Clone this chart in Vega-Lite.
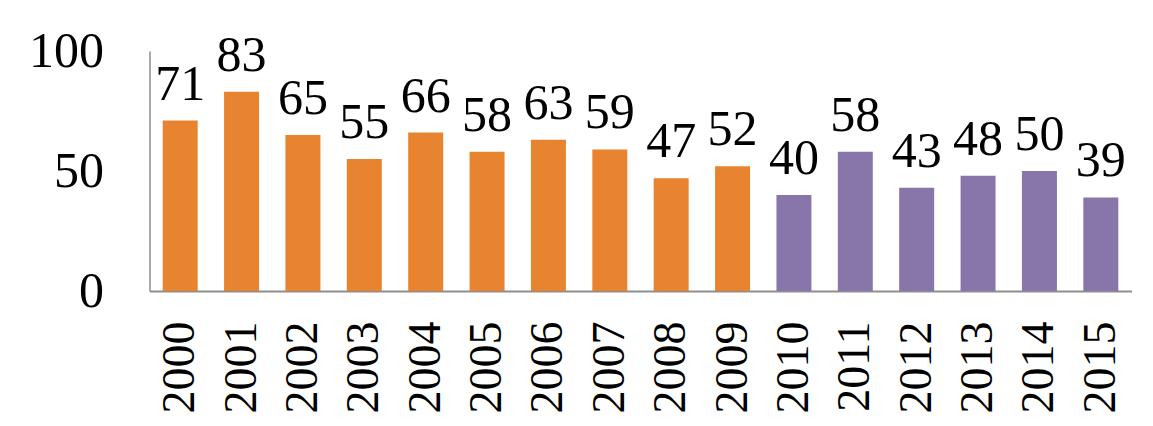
{
  "$schema": "https://vega.github.io/schema/vega-lite/v6.json",
  "autosize": {"type": "none"},
  "padding": {"left": 149.5, "top": 51, "right": 21, "bottom": 135},
  "width": 982,
  "height": 240,
  "background": "white",
  "config": {"view": {"stroke": null}},
  "data": {
    "values": [
      {"year": "2000", "value": 71, "period": "A"},
      {"year": "2001", "value": 83, "period": "A"},
      {"year": "2002", "value": 65, "period": "A"},
      {"year": "2003", "value": 55, "period": "A"},
      {"year": "2004", "value": 66, "period": "A"},
      {"year": "2005", "value": 58, "period": "A"},
      {"year": "2006", "value": 63, "period": "A"},
      {"year": "2007", "value": 59, "period": "A"},
      {"year": "2008", "value": 47, "period": "A"},
      {"year": "2009", "value": 52, "period": "A"},
      {"year": "2010", "value": 40, "period": "B"},
      {"year": "2011", "value": 58, "period": "B"},
      {"year": "2012", "value": 43, "period": "B"},
      {"year": "2013", "value": 48, "period": "B"},
      {"year": "2014", "value": 50, "period": "B"},
      {"year": "2015", "value": 39, "period": "B"}
    ]
  },
  "encoding": {
    "x": {
      "field": "year",
      "type": "ordinal",
      "scale": {"paddingInner": 0.43, "paddingOuter": 0.215},
      "axis": {
        "title": null,
        "labelAngle": -90,
        "labelAlign": "right",
        "labelBaseline": "middle",
        "labelFont": "Liberation Serif",
        "labelFontSize": 46,
        "labelColor": "black",
        "labelPadding": 30,
        "ticks": false,
        "domainColor": "#8E8E8E",
        "domainWidth": 2,
        "grid": false
      }
    },
    "y": {
      "field": "value",
      "type": "quantitative",
      "scale": {"domain": [0, 100], "nice": false},
      "axis": {
        "title": null,
        "values": [0, 50, 100],
        "labelFont": "Liberation Serif",
        "labelFontSize": 50,
        "labelColor": "black",
        "labelPadding": 46,
        "ticks": false,
        "grid": false,
        "domainColor": "#8E8E8E",
        "domainWidth": 1.5
      }
    }
  },
  "layer": [
    {
      "mark": {"type": "bar"},
      "encoding": {
        "color": {
          "field": "period",
          "type": "nominal",
          "scale": {"domain": ["A", "B"], "range": ["#E8832F", "#8876AB"]},
          "legend": null
        }
      }
    },
    {
      "mark": {
        "type": "text",
        "baseline": "alphabetic",
        "dy": -21,
        "font": "Liberation Serif",
        "fontSize": 50,
        "color": "black"
      },
      "encoding": {"text": {"field": "value", "type": "quantitative"}}
    }
  ]
}
